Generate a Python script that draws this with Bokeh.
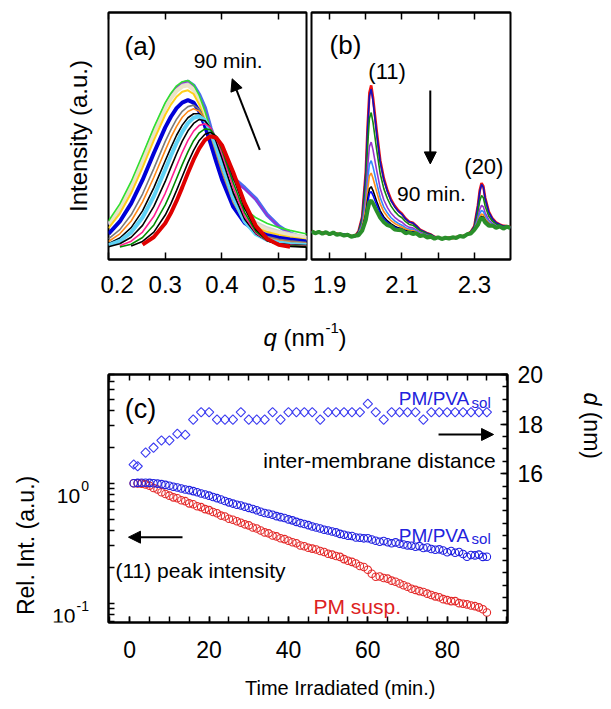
import math
from bokeh.plotting import figure
from bokeh.models import Range1d, LinearAxis, FixedTicker, Label, Arrow, NormalHead, LinearScale
from bokeh.layouts import column, row
from bokeh.embed import file_html
from bokeh.resources import INLINE

FONT = "Liberation Sans"
nan = float("nan")

# ---------------- panel (a) data ----------------
QA = [0.20, 0.22, 0.24, 0.26, 0.28, 0.30, 0.31, 0.32, 0.33, 0.34, 0.35, 0.36,
      0.37, 0.38, 0.39, 0.40, 0.42, 0.44, 0.46, 0.48, 0.50, 0.52, 0.55]
a_cornflower = [.140, .208, .298, .405, .518, .620, .660, .692, .712, .720, .704, .667, .614, .532, .468, .410, .330, .290, .245, .180, .135, .106, .080]
a_purple = [.145, .214, .305, .412, .524, .625, .664, .695, .714, .722, .700, .660, .605, .528, .462, .405, .325, .284, .240, .178, .134, .106, .082]
a_green = [.156, .225, .316, .424, .535, .635, .673, .703, .720, .725, .707, .664, .600, .526, .450, .380, .271, .205, .169, .146, .130, .118, .103]
a_lgray = [.148, .215, .304, .410, .522, .621, .660, .689, .707, .712, .694, .649, .585, .510, .433, .362, .252, .187, .152, .130, .116, .106, .093]
a_wheat = [.142, .207, .295, .400, .512, .613, .652, .682, .700, .705, .687, .642, .576, .500, .422, .350, .240, .175, .141, .120, .108, .098, .087]
a_gold = [.127, .186, .269, .372, .483, .586, .627, .659, .679, .685, .670, .627, .563, .488, .410, .339, .227, .163, .129, .111, .099, .090, .080]
a_blue = [.104, .154, .227, .322, .431, .535, .578, .613, .635, .645, .635, .599, .541, .470, .395, .324, .213, .148, .116, .098, .088, .081, .073]
a_gray = [.084, .121, .181, .265, .369, .478, .526, .568, .600, .619, .625, .608, .564, .501, .428, .354, .230, .152, .112, .093, .082, .076, .069]
a_orange = [.073, .104, .156, .233, .333, .442, .494, .539, .576, .599, .610, .600, .564, .507, .436, .362, .233, .150, .107, .087, .077, .071, .065]
a_black3 = [.064, .087, .129, .197, .291, .400, .453, .503, .544, .574, .590, .590, .565, .515, .449, .376, .242, .151, .104, .082, .071, .066, .061]
a_cyan = [.058, .075, .110, .170, .256, .364, .420, .472, .517, .552, .574, .580, .563, .520, .457, .386, .250, .154, .102, .079, .069, .063, .059]
a_black2 = [.052, .064, .090, .138, .215, .316, .373, .428, .479, .521, .551, .567, .562, .531, .477, .410, .269, .163, .104, .076, .065, .060, .056]
a_pink = [nan, .056, .074, .111, .175, .268, .323, .379, .434, .482, .520, .543, .550, .533, .490, .429, .290, .175, .107, .076, .063, .057, .054]
a_dkgreen = [nan, .051, .062, .089, .140, .221, .272, .328, .384, .436, .481, .513, .529, .525, .495, .443, .310, .190, .113, .076, .061, .055, .052]
a_black1 = [nan, nan, .055, .073, .111, .180, .226, .280, .336, .392, .442, .482, .507, .515, .498, .457, .332, .207, .121, .077, .060, .053, .050]
a_red = [nan, nan, nan, .060, .091, .147, .188, .237, .292, .350, .404, .450, .484, .499, .493, .463, .352, .228, .135, .083, .060, .052, nan]
A_TICKS = [0.2, 0.3, 0.4, 0.5]

# ---------------- panel (b) data ----------------
QB = [1.85, 1.86, 1.87, 1.88, 1.89, 1.90, 1.91, 1.92, 1.93, 1.94, 1.95, 1.96, 1.97, 1.98, 1.99,
      2.00, 2.005, 2.01, 2.015, 2.02, 2.03, 2.04, 2.05, 2.06, 2.07, 2.08, 2.09, 2.10, 2.11, 2.12,
      2.13, 2.14, 2.15, 2.16, 2.17, 2.18, 2.19, 2.20, 2.21, 2.22, 2.23, 2.24, 2.25, 2.26, 2.27,
      2.28, 2.29, 2.30, 2.31, 2.315, 2.32, 2.325, 2.33, 2.34, 2.35, 2.36, 2.37, 2.38, 2.39, 2.40]
b_red = [.114, .110, .108, .109, .106, .106, .104, .105, .101, .100, .099, .096, .094, .114, .172, .355, .536, .675, .705, .656, .523, .402, .328, .279, .242, .217, .198, .185, .166, .153, .149, .136, .121, .114, .106, .101, .092, .089, .086, .084, .089, .086, .091, .094, .096, .101, .112, .135, .220, .280, .309, .297, .250, .194, .166, .150, .142, .136, .135, .132]
b_navy = [.110, .109, .111, .105, .108, .103, .108, .102, .101, .103, .096, .096, .092, .114, .170, .349, .525, .661, .690, .642, .513, .395, .322, .275, .238, .214, .195, .183, .164, .152, .148, .135, .120, .113, .106, .101, .092, .086, .084, .087, .087, .088, .089, .093, .094, .099, .112, .134, .218, .275, .304, .292, .247, .192, .165, .149, .142, .135, .135, .132]
b_dkgreen = [.111, .107, .109, .107, .108, .105, .106, .104, .100, .101, .098, .094, .093, .111, .159, .309, .457, .571, .595, .555, .446, .347, .286, .246, .216, .195, .179, .169, .153, .142, .139, .128, .116, .110, .103, .099, .091, .088, .085, .085, .088, .088, .090, .092, .095, .100, .110, .129, .193, .237, .259, .250, .216, .175, .155, .143, .138, .133, .133, .131]
b_purple = [.112, .109, .110, .106, .110, .104, .107, .103, .101, .102, .097, .095, .094, .107, .144, .258, .370, .457, .475, .444, .362, .287, .241, .210, .187, .171, .159, .151, .138, .130, .128, .120, .110, .105, .099, .096, .090, .087, .086, .086, .088, .087, .090, .092, .095, .100, .109, .124, .171, .203, .219, .213, .189, .160, .146, .138, .135, .131, .132, .130]
b_sky = [.110, .108, .109, .105, .109, .105, .106, .103, .100, .102, .096, .095, .093, .105, .135, .227, .316, .385, .400, .375, .310, .250, .212, .188, .169, .156, .146, .139, .129, .123, .122, .115, .106, .102, .097, .095, .089, .087, .085, .087, .087, .088, .090, .092, .094, .100, .108, .122, .160, .186, .199, .194, .175, .152, .142, .135, .133, .130, .131, .130]
b_orange = [.111, .107, .110, .106, .108, .104, .107, .104, .100, .101, .098, .095, .093, .103, .129, .206, .280, .338, .350, .329, .275, .225, .193, .173, .157, .146, .138, .132, .123, .118, .117, .111, .103, .100, .095, .094, .088, .088, .085, .086, .088, .087, .091, .092, .095, .099, .108, .120, .152, .173, .184, .180, .165, .147, .138, .133, .132, .129, .131, .129]
b_black = [.110, .108, .109, .107, .108, .105, .106, .103, .101, .101, .097, .096, .093, .102, .123, .183, .241, .286, .295, .279, .236, .197, .172, .156, .144, .135, .128, .124, .117, .112, .112, .107, .101, .098, .094, .093, .088, .086, .084, .086, .087, .088, .090, .093, .095, .100, .108, .119, .146, .165, .174, .171, .158, .143, .136, .132, .131, .129, .131, .129]
b_blue = [.111, .109, .108, .106, .109, .104, .107, .102, .101, .102, .097, .094, .094, .101, .120, .174, .226, .267, .275, .260, .222, .187, .165, .150, .139, .131, .125, .121, .114, .110, .110, .106, .100, .097, .093, .092, .088, .087, .085, .086, .088, .087, .090, .093, .094, .100, .108, .118, .144, .161, .169, .167, .155, .141, .135, .132, .131, .129, .131, .129]
b_green = [.115, .106, .112, .104, .111, .102, .109, .100, .103, .097, .100, .092, .096, .098, .116, .159, .200, .232, .239, .227, .197, .169, .151, .139, .134, .121, .119, .118, .106, .110, .103, .106, .095, .098, .089, .092, .084, .090, .083, .088, .085, .090, .087, .095, .092, .102, .105, .120, .140, .158, .168, .163, .150, .137, .138, .128, .134, .125, .133, .127]
B_TICKS = [1.9, 2.1, 2.3]
B_MINOR = [2.0, 2.2]

# ---------------- panel (c) data ----------------
T_MIN = list(range(1, 91))
rel_pm_susp = [1.000, .993, .991, .977, .951, .912, .887, .841, .813, .787,
               .762, .748, .721, .708, .679, .668, .643, .631, .608, .596,
               .575, .561, .537, .527, .506, .495, .481, .468, .454, .445,
               .427, .419, .403, .389, .382, .366, .360, .348, .342, .331,
               .322, .316, .302, .298, .290, .285, .280, .272, .267, .258,
               .254, .247, .243, .233, .226, .221, .214, .204, .200, .190,
               .176, .166, .167, .162, .160, .154, .151, .146, .141, .137,
               .132, .129, .126, .124, .120, .117, .114, .112, .108, .106,
               .104, .104, .100, .0989, .0977, .0955, .0944, .0923, .0891, .0836]
rel_pm_pva = [1.000, 1.005, 1.007, 1.009, 1.005, 1.000, .991, .982, .968, .951,
              .933, .920, .902, .887, .875, .859, .841, .820, .804, .787,
              .767, .750, .731, .711, .692, .676, .661, .652, .637, .622,
              .610, .594, .578, .565, .556, .545, .531, .521, .513, .499,
              .490, .476, .465, .457, .447, .435, .427, .419, .409, .403,
              .396, .389, .378, .372, .365, .363, .353, .351, .347, .348,
              .339, .331, .325, .330, .322, .316, .321, .313, .308, .303,
              .301, .295, .299, .288, .291, .283, .279, .281, .275, .266,
              .272, .263, .267, .257, .244, .252, .250, .254, .243, .244]
T_D = [1] + list(range(2, 91, 2))
d_nm = [16.37, 16.30, 16.85, 17.05, 17.34, 17.34, 17.61, 17.57, 18.18, 18.48,
        18.48, 18.18, 18.18, 18.18, 18.48, 18.18, 18.18, 18.18, 18.48, 18.18,
        18.48, 18.48, 18.48, 18.48, 18.18, 18.48, 18.48, 18.48, 18.48, 18.48,
        18.82, 18.48, 18.18, 18.48, 18.48, 18.48, 18.48, 18.18, 18.48, 18.48,
        18.48, 18.48, 18.48, 18.48, 18.48, 18.48]
C_TICKS = [0, 20, 40, 60, 80]
C_MINOR = list(range(-5, 96, 5))
LOG_TICKS = [0.1, 1]
LOG_EXP = ["-1", "0"]
LOG_MINOR = [0.07, 0.08, 0.09, 0.2, 0.3, 0.4, 0.5, 0.6, 0.7, 0.8, 0.9, 2, 3, 4, 5, 6, 7, 8]
D_TICKS = [16, 18, 20]
D_MINOR = [10 + 0.5 * i for i in range(21)]
LOG_RANGE = (0.069, 8.05)


def style_axis(ax, size="20px", tick_len=6, minor_len=6, standoff=5):
    ax.axis_line_color = "black"
    ax.axis_line_width = 2
    ax.major_tick_in = tick_len
    ax.major_tick_out = 0
    ax.minor_tick_in = minor_len
    ax.minor_tick_out = 0
    ax.major_tick_line_width = 1.5
    ax.minor_tick_line_width = 1.5
    ax.major_tick_line_color = "black"
    ax.minor_tick_line_color = "black"
    ax.major_label_text_font = FONT
    ax.major_label_text_font_size = size
    ax.major_label_text_color = "black"
    ax.major_label_standoff = standoff


def bare_axis(positions, tick_len, **kw):
    ax = LinearAxis(ticker=FixedTicker(ticks=[], minor_ticks=positions), **kw)
    style_axis(ax, "20px", tick_len, tick_len, 0)
    return ax


def lab(p, x, y, text, size, color="black", align="left", baseline="alphabetic",
        angle=0.0, style="normal", y_range_name="default"):
    p.add_layout(Label(x=x, y=y, text=text, text_font=FONT, text_font_size=size,
                       text_color=color, text_align=align, text_baseline=baseline,
                       angle=angle, text_font_style=style, y_range_name=y_range_name))


def arrow(p, x0, y0, x1, y1):
    p.add_layout(Arrow(end=NormalHead(size=12, line_color="black", fill_color="black", line_width=1),
                       x_start=x0, y_start=y0, x_end=x1, y_end=y1,
                       line_color="black", line_width=2))


def base_fig(**kw):
    p = figure(output_backend="svg", toolbar_location=None, **kw)
    p.grid.visible = False
    p.outline_line_color = "black"
    p.outline_line_width = 2
    p.background_fill_color = "white"
    p.border_fill_color = "white"
    return p


def strip(width, height, x_range, y_range, top=0, bottom=0, **kw):
    # text-only area (no axes, no frame line), in pixel-like data units
    p = figure(output_backend="svg", toolbar_location=None, width=width, height=height,
               x_range=x_range, y_range=y_range, x_axis_location=None, y_axis_location=None,
               min_border_left=0, min_border_right=0, min_border_top=top,
               min_border_bottom=bottom, **kw)
    p.grid.visible = False
    p.outline_line_color = None
    p.background_fill_color = "white"
    p.border_fill_color = "white"
    return p


# ---------------- panel (a) ----------------
aL = strip(100, 308, Range1d(0, 100), Range1d(0, 1), top=12, bottom=49)
lab(aL, 78, 0.5, "Intensity (a.u.)", "24px", align="center", baseline="middle", angle=math.pi / 2)

fa = base_fig(width=208, height=308, x_range=Range1d(0.2, 0.549), y_range=Range1d(0, 1),
              min_border_left=8, min_border_right=2, min_border_top=12, min_border_bottom=49)
fa.yaxis.visible = False
fa.xaxis.ticker = FixedTicker(ticks=A_TICKS)
style_axis(fa.xaxis[0], "24px", 7, 7, 16)
fa.add_layout(bare_axis(A_TICKS, 7), "above")

a_series = [
    (a_cornflower, "#4a6cf0", 4), (a_purple, "#9b30d0", 1.6), (a_lgray, "#d4d4d4", 2.2),
    (a_wheat, "#ebe3c8", 4), (a_gold, "#ffcf1a", 2), (a_green, "#30e030", 1.6),
    (a_blue, "#0000d8", 4), (a_gray, "#7a7a7a", 1.6), (a_orange, "#ff8a1a", 1.6),
    (a_black3, "#000000", 1.6), (a_cyan, "#5fd2f5", 4), (a_black2, "#000000", 1.6),
    (a_pink, "#ff2090", 1.6), (a_dkgreen, "#008a00", 1.6), (a_black1, "#000000", 1.6),
    (a_red, "#e00000", 4),
]
for ys, col, w in a_series:
    fa.line(QA, ys, line_color=col, line_width=w)

lab(fa, 0.2564, 0.866, "(a)", "26px", align="center", baseline="middle")
lab(fa, 0.3504, 0.806, "90 min.", "21px")
arrow(fa, 0.4667, 0.444, 0.4180, 0.7316)

# ---------------- panel (b) ----------------
fb = base_fig(width=295, height=308, x_range=Range1d(1.85, 2.40), y_range=Range1d(0, 1),
              min_border_left=3, min_border_right=93, min_border_top=12, min_border_bottom=49)
fb.yaxis.visible = False
fb.xaxis.ticker = FixedTicker(ticks=B_TICKS, minor_ticks=B_MINOR)
style_axis(fb.xaxis[0], "24px", 7, 7, 16)
fb.add_layout(bare_axis(B_TICKS + B_MINOR, 7), "above")

b_series = [
    (b_red, "#ee1111", 2.6), (b_navy, "#1010c0", 1.6), (b_dkgreen, "#118811", 1.6),
    (b_purple, "#9933cc", 1.6), (b_sky, "#3388ff", 1.6), (b_orange, "#ff8c1a", 1.6),
    (b_black, "#000000", 1.6), (b_blue, "#0000ff", 1.6), (b_green, "#2a8f2a", 4),
]
for ys, col, w in b_series:
    fb.line(QB, ys, line_color=col, line_width=w)

lab(fb, 1.9438, 0.8664, "(b)", "26px", align="center", baseline="middle")
lab(fb, 2.0588, 0.761, "(11)", "22px", align="center", baseline="middle")
arrow(fb, 2.1783, 0.684, 2.1783, 0.387)
lab(fb, 2.0864, 0.268, "90 min.", "21px")
lab(fb, 2.3264, 0.3765, "(20)", "22px", align="center", baseline="middle")

# ---------------- shared q label ----------------
qs = strip(603, 52, Range1d(0, 603), Range1d(52, 0))
lab(qs, 263, 29, "q", "24px", style="italic")
lab(qs, 283, 29, "(nm", "24px")
lab(qs, 325, 19, "-1", "15px")
lab(qs, 338, 29, ")", "24px")

# ---------------- panel (c) ----------------
fc = base_fig(width=460, height=310, x_range=Range1d(-5.35, 95.2), y_range=Range1d(*LOG_RANGE),
              y_axis_type="log", min_border_left=8, min_border_right=53,
              min_border_top=14, min_border_bottom=48)
fc.extra_y_ranges = {"d": Range1d(10, 20)}
fc.extra_y_scales = {"d": LinearScale()}
fc.xaxis.ticker = FixedTicker(ticks=C_TICKS, minor_ticks=C_MINOR)
style_axis(fc.xaxis[0], "23px", 6, 6, 18)
fc.yaxis.ticker = FixedTicker(ticks=[], minor_ticks=LOG_MINOR + LOG_TICKS)
style_axis(fc.yaxis[0], "20px", 6, 6, 0)
fc.add_layout(bare_axis(C_MINOR, 6), "above")
rc = LinearAxis(y_range_name="d", ticker=FixedTicker(ticks=D_TICKS, minor_ticks=D_MINOR))
style_axis(rc, "23px", 7, 5, 10)
fc.add_layout(rc, "right")

fc.scatter(T_MIN, rel_pm_susp, marker="circle", size=7.5, fill_color=None,
           line_color="#e42a2a", line_width=1.1)
fc.scatter(T_MIN, rel_pm_pva, marker="circle", size=7.5, fill_color=None,
           line_color="#2020e0", line_width=1.1)
fc.scatter(T_D, d_nm, marker="square", angle=math.pi / 4, size=6.6, fill_color=None,
           line_color="#3a3af0", line_width=1.1, y_range_name="d")

lab(fc, 2.72, 4.19, "(c)", "27px", align="center", baseline="middle")
lab(fc, 67.82, 5.05, "PM/PVA", "19px", color="#2222dd")
lab(fc, 86.14, 4.70, "sol", "15px", color="#2222dd")
arrow(fc, 77.82, 2.546, 91.69, 2.546)
lab(fc, 92.19, 1.546, "inter-membrane distance", "21px", align="right")
lab(fc, 67.82, 0.3665, "PM/PVA", "19px", color="#2222dd")
lab(fc, 86.14, 0.346, "sol", "15px", color="#2222dd")
lab(fc, 46.32, 0.0939, "PM susp.", "21px", color="#dd2222")
arrow(fc, 13.30, 0.3548, -0.31, 0.3548)
lab(fc, -3.59, 0.1873, "(11) peak intensity", "21px")

# left strip of (c): 10^n tick labels and axis title (same log scale as (c))
cL = strip(100, 310, Range1d(0, 100), Range1d(*LOG_RANGE), top=14, bottom=48, y_axis_type="log")
for tv, ex in zip(LOG_TICKS, LOG_EXP):
    ex_w = (0.333 + 0.556) * 14 if ex == "-1" else 0.556 * 14
    y_pix = 482.7 - 120 * math.log10(tv)
    lab(cL, 88.5 - ex_w - 1, 10 ** ((482.7 - (y_pix + 12.5)) / 120), "10", "21px", align="right")
    lab(cL, 88.5, 10 ** ((482.7 - (y_pix + 2.5)) / 120), ex, "14px", align="right")
lab(cL, 25, 0.3027, "Rel. Int. (a.u.)", "23px", align="center", baseline="middle", angle=math.pi / 2)

# right strip of (c): d axis title
cR = strip(43, 310, Range1d(0, 43), Range1d(10, 20), top=14, bottom=48)
lab(cR, 31, 19.27, "d", "23px", baseline="middle", angle=-math.pi / 2, style="italic")
lab(cR, 31, 18.50, "(nm)", "23px", baseline="middle", angle=-math.pi / 2)

# bottom strip: x title of (c)
ts = strip(603, 30, Range1d(0, 603), Range1d(30, 0))
lab(ts, 342.5, 17, "Time Irradiated  (min.)", "20px", align="center")

layout = column(row(aL, fa, fb), qs, row(cL, fc, cR), ts)
open("out.html", "w").write(file_html(layout, INLINE))
